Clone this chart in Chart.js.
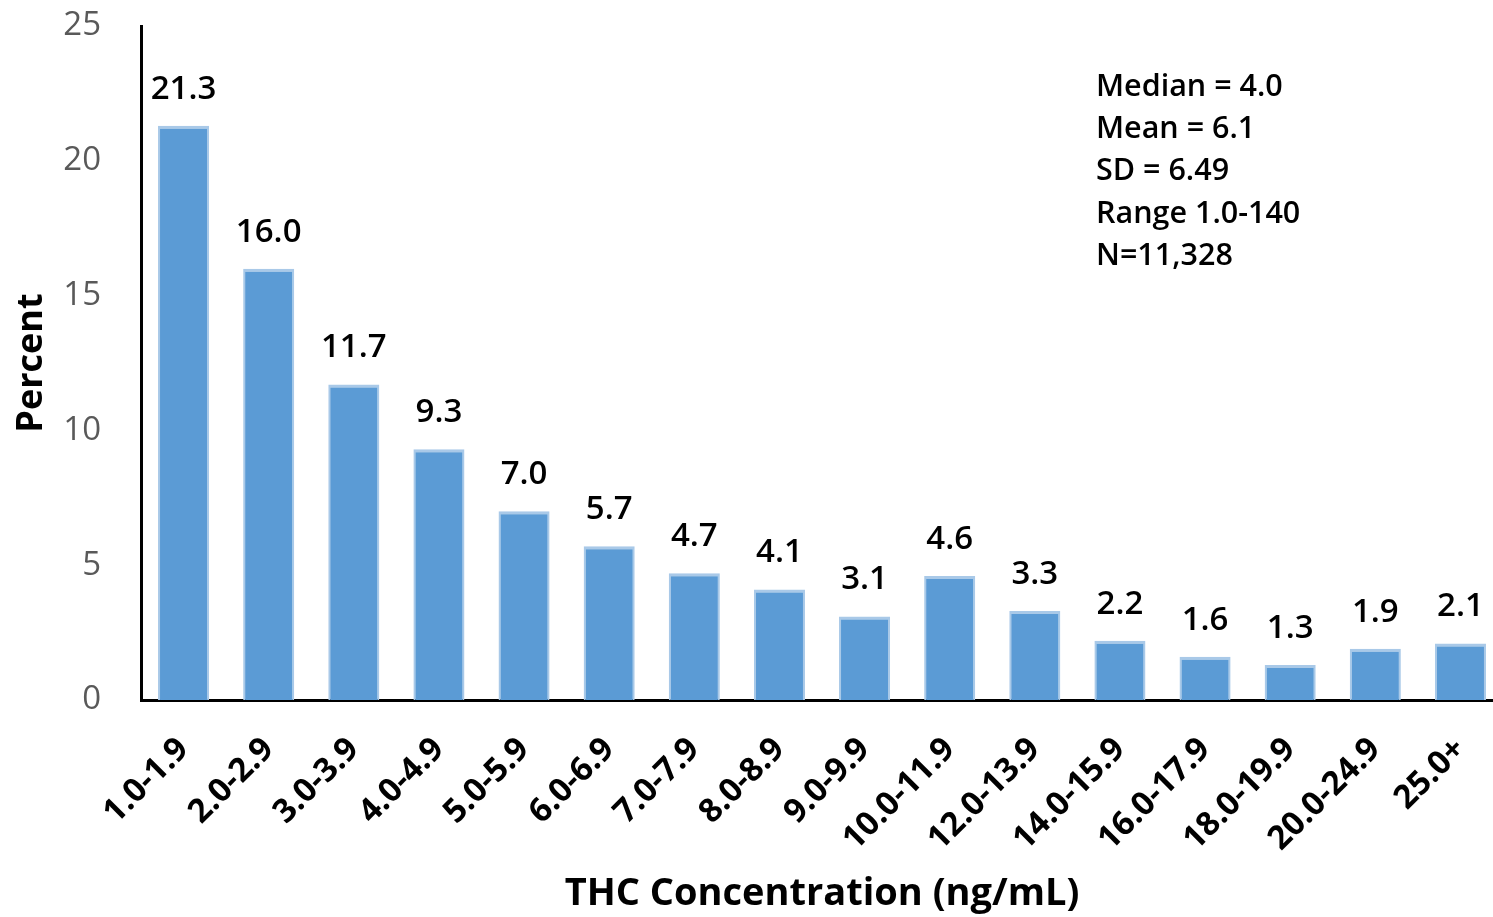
<!DOCTYPE html>
<html>
<head>
<meta charset="utf-8">
<script src="https://cdn.jsdelivr.net/npm/chart.js@4/dist/chart.umd.min.js"></script>
<style>
  html, body { margin: 0; padding: 0; background: #fff; overflow: hidden; }
  #wrap { width: 1503px; height: 917px; }
</style>
</head>
<body>
<div id="wrap"><canvas id="thcChart"></canvas></div>
<script>
const categories = ['1.0-1.9', '2.0-2.9', '3.0-3.9', '4.0-4.9', '5.0-5.9', '6.0-6.9', '7.0-7.9', '8.0-8.9',
    '9.0-9.9', '10.0-11.9', '12.0-13.9', '14.0-15.9', '16.0-17.9', '18.0-19.9', '20.0-24.9', '25.0+'];
const percents = [21.3, 16.0, 11.7, 9.3, 7.0, 5.7, 4.7, 4.1, 3.1, 4.6, 3.3, 2.2, 1.6, 1.3, 1.9, 2.1];
const yTicks = [0, 5, 10, 15, 20, 25];
const statsLines = ['Median = 4.0', 'Mean = 6.1', 'SD = 6.49', 'Range 1.0-140', 'N=11,328'];

const FONT = "'Open Sans', 'Liberation Sans', sans-serif";

// value labels above each bar
const barLabels = {
    id: 'barLabels',
    afterDatasetsDraw(chart) {
        const ctx = chart.ctx;
        const meta = chart.getDatasetMeta(0);
        ctx.save();
        ctx.font = '600 33px ' + FONT;
        ctx.fillStyle = '#000';
        ctx.textAlign = 'center';
        ctx.textBaseline = 'bottom';
        meta.data.forEach((bar, i) => {
            ctx.fillText(percents[i].toFixed(1), bar.x, bar.y - 20);
        });
        ctx.restore();
    }
};

// summary stats in the top right
const statsBox = {
    id: 'statsBox',
    afterDraw(chart) {
        const ctx = chart.ctx;
        ctx.save();
        ctx.font = '600 30.5px ' + FONT;
        ctx.fillStyle = '#000';
        ctx.textAlign = 'left';
        ctx.textBaseline = 'middle';
        statsLines.forEach((line, i) => {
            ctx.fillText(line, 1096, 87 + i * 42.3);
        });
        ctx.restore();
    }
};

new Chart(document.getElementById('thcChart').getContext('2d'), {
    type: 'bar',
    data: {
        labels: categories,
        datasets: [{
            data: percents,
            backgroundColor: '#5b9bd5',
            borderColor: '#a9c9e8',
            borderWidth: { top: 3, left: 2, right: 2, bottom: 0 },
            borderSkipped: 'bottom',
            barPercentage: 0.6,
            categoryPercentage: 1.0
        }]
    },
    options: {
        responsive: true,
        maintainAspectRatio: false,
        animation: false,
        layout: { padding: { top: 26, right: 0, left: 10, bottom: 0 } },
        plugins: {
            legend: { display: false },
            tooltip: { enabled: false }
        },
        scales: {
            x: {
                afterFit(scale) {
                    scale.height = 217;
                    scale.paddingLeft = 0;
                    scale.paddingRight = 0;
                },
                grid: { display: false, drawTicks: false },
                border: { color: '#000', width: 3 },
                ticks: {
                    color: '#000',
                    font: { family: FONT, size: 33, weight: '700' },
                    maxRotation: 45,
                    minRotation: 45,
                    padding: 30
                },
                title: {
                    display: true,
                    text: 'THC Concentration (ng/mL)',
                    color: '#000',
                    font: { family: FONT, size: 38, weight: '700' },
                    padding: { top: 0, bottom: 0 }
                }
            },
            y: {
                min: 0,
                max: 25,
                afterBuildTicks(axis) {
                    axis.ticks = yTicks.map(v => ({ value: v }));
                },
                afterFit(scale) {
                    scale.width = 131;
                    scale.paddingTop = 0;
                    scale.paddingBottom = 0;
                },
                grid: { display: false, drawTicks: false },
                border: { color: '#000', width: 3 },
                ticks: {
                    color: '#595959',
                    font: { family: FONT, size: 33, weight: '500' },
                    padding: 40
                },
                title: {
                    display: true,
                    text: 'Percent',
                    color: '#000',
                    font: { family: FONT, size: 36, weight: '700' },
                    padding: { top: 0, bottom: 0 }
                }
            }
        }
    },
    plugins: [barLabels, statsBox]
});
</script>
</body>
</html>
